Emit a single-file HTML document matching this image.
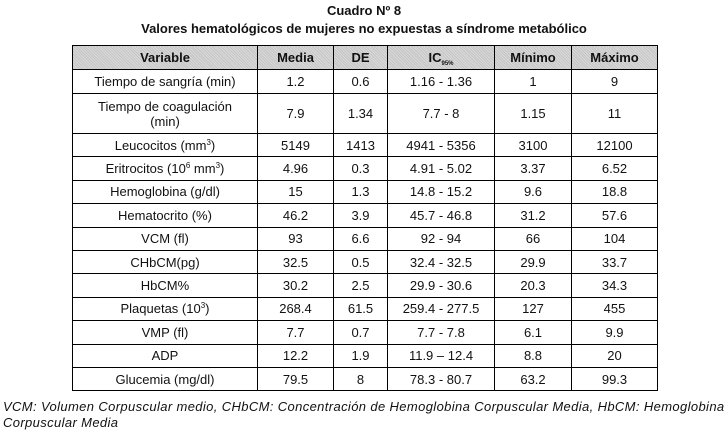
<!DOCTYPE html>
<html><head><meta charset="utf-8">
<style>
body{margin:0;width:728px;height:433px;background:#fff;position:relative;font-family:"Liberation Sans",Arial,sans-serif;color:#111;overflow:hidden}
.t1{position:absolute;top:3px;left:0;width:728px;text-align:center;font-weight:bold;font-size:13px}
.t2{position:absolute;top:21px;left:0;width:728px;text-align:center;font-weight:bold;font-size:13px}
table{position:absolute;left:72px;top:45px;border-collapse:collapse;font-size:13px;table-layout:fixed}
td,th{border:1.5px solid #000;text-align:center;padding:0;line-height:15px}
th{background:repeating-linear-gradient(45deg,#c4c4c4 0 1px,#dadada 1px 2px);font-weight:bold;font-size:13px}
tr{height:23.4px}
tr.h{height:24px}
tr.c{height:40px}
sup{font-size:8px;vertical-align:5px;line-height:0}
sub{font-size:6px;vertical-align:-3px;line-height:0}
.fn{position:absolute;left:3px;top:399px;font-style:italic;font-size:13px;line-height:16px;letter-spacing:0.37px;white-space:nowrap}
</style></head><body>
<div class="t1">Cuadro Nº 8</div>
<div class="t2">Valores hematológicos de mujeres no expuestas a síndrome metabólico</div>
<table>
<colgroup><col style="width:185px"><col style="width:76px"><col style="width:54px"><col style="width:107px"><col style="width:77px"><col style="width:86px"></colgroup>
<tr class="h"><th>Variable</th><th>Media</th><th>DE</th><th>IC<sub>95%</sub></th><th>Mínimo</th><th>Máximo</th></tr>
<tr class="h"><td>Tiempo de sangría (min)</td><td>1.2</td><td>0.6</td><td>1.16 - 1.36</td><td>1</td><td>9</td></tr>
<tr class="c"><td>Tiempo de coagulación<br>(min)</td><td>7.9</td><td>1.34</td><td>7.7 - 8</td><td>1.15</td><td>11</td></tr>
<tr><td>Leucocitos (mm<sup>3</sup>)</td><td>5149</td><td>1413</td><td>4941 - 5356</td><td>3100</td><td>12100</td></tr>
<tr><td>Eritrocitos (10<sup>6</sup> mm<sup>3</sup>)</td><td>4.96</td><td>0.3</td><td>4.91 - 5.02</td><td>3.37</td><td>6.52</td></tr>
<tr><td>Hemoglobina (g/dl)</td><td>15</td><td>1.3</td><td>14.8 - 15.2</td><td>9.6</td><td>18.8</td></tr>
<tr><td>Hematocrito (%)</td><td>46.2</td><td>3.9</td><td>45.7 - 46.8</td><td>31.2</td><td>57.6</td></tr>
<tr><td>VCM (fl)</td><td>93</td><td>6.6</td><td>92 - 94</td><td>66</td><td>104</td></tr>
<tr><td>CHbCM(pg)</td><td>32.5</td><td>0.5</td><td>32.4 - 32.5</td><td>29.9</td><td>33.7</td></tr>
<tr><td>HbCM%</td><td>30.2</td><td>2.5</td><td>29.9 - 30.6</td><td>20.3</td><td>34.3</td></tr>
<tr><td>Plaquetas (10<sup>3</sup>)</td><td>268.4</td><td>61.5</td><td>259.4 - 277.5</td><td>127</td><td>455</td></tr>
<tr><td>VMP (fl)</td><td>7.7</td><td>0.7</td><td>7.7 - 7.8</td><td>6.1</td><td>9.9</td></tr>
<tr><td>ADP</td><td>12.2</td><td>1.9</td><td>11.9 – 12.4</td><td>8.8</td><td>20</td></tr>
<tr><td>Glucemia (mg/dl)</td><td>79.5</td><td>8</td><td>78.3 - 80.7</td><td>63.2</td><td>99.3</td></tr>
</table>
<div class="fn">VCM: Volumen Corpuscular medio, CHbCM: Concentración de Hemoglobina Corpuscular Media, HbCM: Hemoglobina<br>Corpuscular Media</div>
</body></html>
